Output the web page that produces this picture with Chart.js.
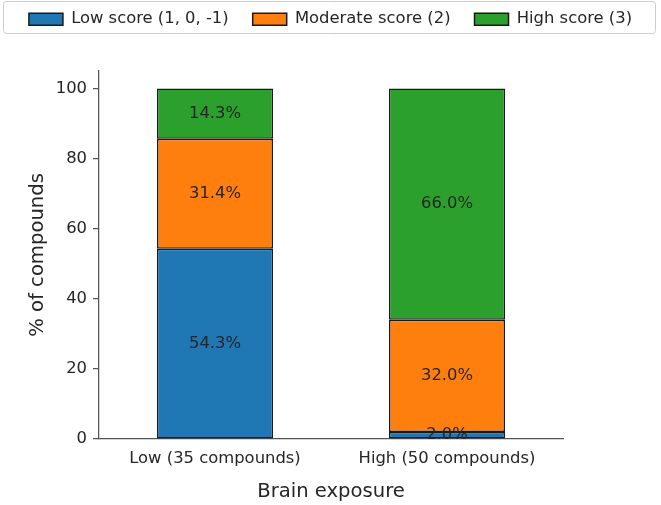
<!DOCTYPE html>
<html>
<head>
<meta charset="utf-8">
<script src="https://cdn.jsdelivr.net/npm/chart.js@4.4.1/dist/chart.umd.min.js"></script>
<style>
  html, body { margin: 0; padding: 0; background: #fff; }
  #wrap { width: 661px; height: 505px; }
</style>
</head>
<body>
<div id="wrap"><canvas id="chart" width="661" height="505"></canvas></div>
<script>
// data
const categories = ['Low (35 compounds)', 'High (50 compounds)'];
const seriesNames = ['Low score (1, 0, -1)', 'Moderate score (2)', 'High score (3)'];
const lowScore = [54.3, 2.0];
const moderateScore = [31.4, 32.0];
const highScore = [14.3, 66.0];
const seriesColors = ['#1f77b4', '#ff7f0e', '#2ca02c'];
const yTicks = [0, 20, 40, 60, 80, 100];

const textColor = '#262626';
const axisColor = '#555555';
Chart.defaults.font.family = '"DejaVu Sans", sans-serif';
Chart.defaults.color = textColor;

// push the plot down below the legend frame
const legendSpace = {
    id: 'legendSpace',
    beforeInit(chart) {
        const origFit = chart.legend.fit;
        chart.legend.fit = function () {
            origFit.call(this);
            this.height = 84;
        };
    },
    beforeDraw(chart) {
        // legend frame (rounded, light grey)
        const ctx = chart.ctx;
        ctx.save();
        ctx.strokeStyle = '#cccccc';
        ctx.lineWidth = 1;
        ctx.beginPath();
        ctx.roundRect(3.5, 1.5, chart.width - 9, 32, 3);
        ctx.stroke();
        ctx.restore();
    }
};

// percentage text in the middle of each segment
const barLabels = {
    id: 'barLabels',
    afterDatasetsDraw(chart) {
        const ctx = chart.ctx;
        ctx.save();
        ctx.font = '16.4px "DejaVu Sans"';
        ctx.fillStyle = textColor;
        ctx.textAlign = 'center';
        ctx.textBaseline = 'middle';
        chart.data.datasets.forEach((ds, i) => {
            chart.getDatasetMeta(i).data.forEach((bar, j) => {
                const c = bar.getCenterPoint();
                ctx.fillText(ds.data[j].toFixed(1) + '%', c.x, c.y);
            });
        });
        ctx.restore();
    }
};

const seriesData = [lowScore, moderateScore, highScore];

new Chart(document.getElementById('chart'), {
    type: 'bar',
    data: {
        labels: categories,
        datasets: seriesNames.map((name, i) => ({
            label: name,
            data: seriesData[i],
            backgroundColor: seriesColors[i],
            borderColor: '#1a1a1a',
            borderWidth: 1.5,
            borderSkipped: false,
            categoryPercentage: 1,
            barPercentage: 0.5
        }))
    },
    options: {
        responsive: false,
        animation: false,
        layout: { padding: { top: -13, left: 0, right: 0, bottom: 0 } },
        plugins: {
            tooltip: { enabled: false },
            legend: {
                position: 'top',
                labels: {
                    boxWidth: 34,
                    boxHeight: 12,
                    padding: 24,
                    color: textColor,
                    font: { size: 16.4 }
                }
            }
        },
        scales: {
            x: {
                stacked: true,
                afterFit(scale) { scale.height = 66; scale.paddingRight = 98; },
                grid: { display: false, drawTicks: false },
                border: { display: true, color: axisColor, width: 1.25 },
                ticks: { padding: 10, color: textColor, font: { size: 16.4 }, maxRotation: 0 },
                title: {
                    display: true,
                    text: 'Brain exposure',
                    color: textColor,
                    font: { size: 19.6 },
                    padding: { top: 0, bottom: 1 }
                }
            },
            y: {
                stacked: true,
                min: 0,
                max: 105,
                afterFit(scale) { scale.width = 99; },
                afterBuildTicks(scale) { scale.ticks = yTicks.map(v => ({ value: v })); },
                grid: { drawOnChartArea: false, drawTicks: true, tickLength: 6, color: axisColor, lineWidth: 1.25 },
                border: { display: true, color: axisColor, width: 1.25 },
                ticks: { padding: 6, color: textColor, font: { size: 16.4 } },
                title: {
                    display: true,
                    text: '% of compounds',
                    color: textColor,
                    font: { size: 19.6 },
                    padding: { top: 26, bottom: 0 }
                }
            }
        }
    },
    plugins: [legendSpace, barLabels]
});
</script>
</body>
</html>
